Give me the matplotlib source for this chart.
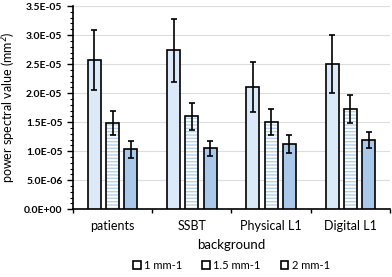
import numpy as np
import matplotlib.pyplot as plt
from matplotlib.ticker import MultipleLocator

plt.rcParams['font.family'] = ['Lato', 'DejaVu Sans']
plt.rcParams['hatch.linewidth'] = 1.0

categories = ["patients", "SSBT", "Physical L1", "Digital L1"]
series = ["1 mm-1", "1.5 mm-1", "2 mm-1"]
values = [
    [2.57e-5, 2.74e-5, 2.10e-5, 2.50e-5],
    [1.48e-5, 1.60e-5, 1.50e-5, 1.72e-5],
    [1.03e-5, 1.05e-5, 1.12e-5, 1.19e-5],
]
errors = [
    [0.51e-5, 0.54e-5, 0.43e-5, 0.50e-5],
    [0.21e-5, 0.23e-5, 0.22e-5, 0.24e-5],
    [0.14e-5, 0.13e-5, 0.15e-5, 0.14e-5],
]

faces = ["#dce9f8", "white", "#a9c8ea"]
hatches = [None, "-----", None]

fig = plt.figure(figsize=(3.92, 2.77), dpi=100)
ax = fig.add_axes([0.186, 0.245, 0.809, 0.733])

x = np.arange(len(categories))
width = 0.165
step = 0.23
for i in range(len(series)):
    pos = x + (i - 1) * step
    # fill (and light-blue hatch) first, black outline + error bars on top
    ax.bar(pos, values[i], width, color=faces[i], edgecolor="#b5d0ee",
           linewidth=0, hatch=hatches[i], zorder=3)
    ax.bar(pos, values[i], width, yerr=errors[i], fill=False,
           edgecolor="black", linewidth=1.2,
           error_kw={"elinewidth": 1.2, "capsize": 2, "capthick": 1.2},
           label=series[i], zorder=4)

ax.set_xlim(-0.5, len(categories) - 0.5)
ax.set_ylim(0, 3.5e-5)
ax.yaxis.set_major_locator(MultipleLocator(0.5e-5))
ax.yaxis.set_minor_locator(MultipleLocator(0.1e-5))
ax.yaxis.set_major_formatter(plt.FuncFormatter(
    lambda v, p: "0.0E+00" if v == 0 else "%.1E" % v))
ax.grid(axis="y", color="#dddddd", linewidth=0.8, zorder=0)
ax.set_xticks(x)
ax.set_xticklabels(categories, fontsize=9)
ax.set_xticks(np.arange(-0.5, len(categories)), minor=True)
ax.tick_params(axis="x", which="major", length=0, pad=8)
ax.tick_params(axis="x", which="minor", length=3, width=1)
ax.tick_params(axis="y", which="major", labelsize=7.5, length=4, width=1)
ax.tick_params(axis="y", which="minor", length=2, width=0.8)
for lab in ax.get_yticklabels():
    lab.set_fontweight("bold")

for s in ["top", "right"]:
    ax.spines[s].set_visible(False)
ax.spines["left"].set_linewidth(1.2)
ax.spines["bottom"].set_linewidth(1.2)

ax.set_xlabel("background", fontsize=9.5, labelpad=5)
ax.set_ylabel("power spectral value (mm$^2$)", fontsize=9, labelpad=4)

fig.legend(loc="lower center", bbox_to_anchor=(0.59, -0.015), ncol=3, frameon=False,
           fontsize=8, handlelength=0.7, handleheight=0.7, handletextpad=0.3,
           columnspacing=1.8)

fig.savefig("out.png", dpi=100)
